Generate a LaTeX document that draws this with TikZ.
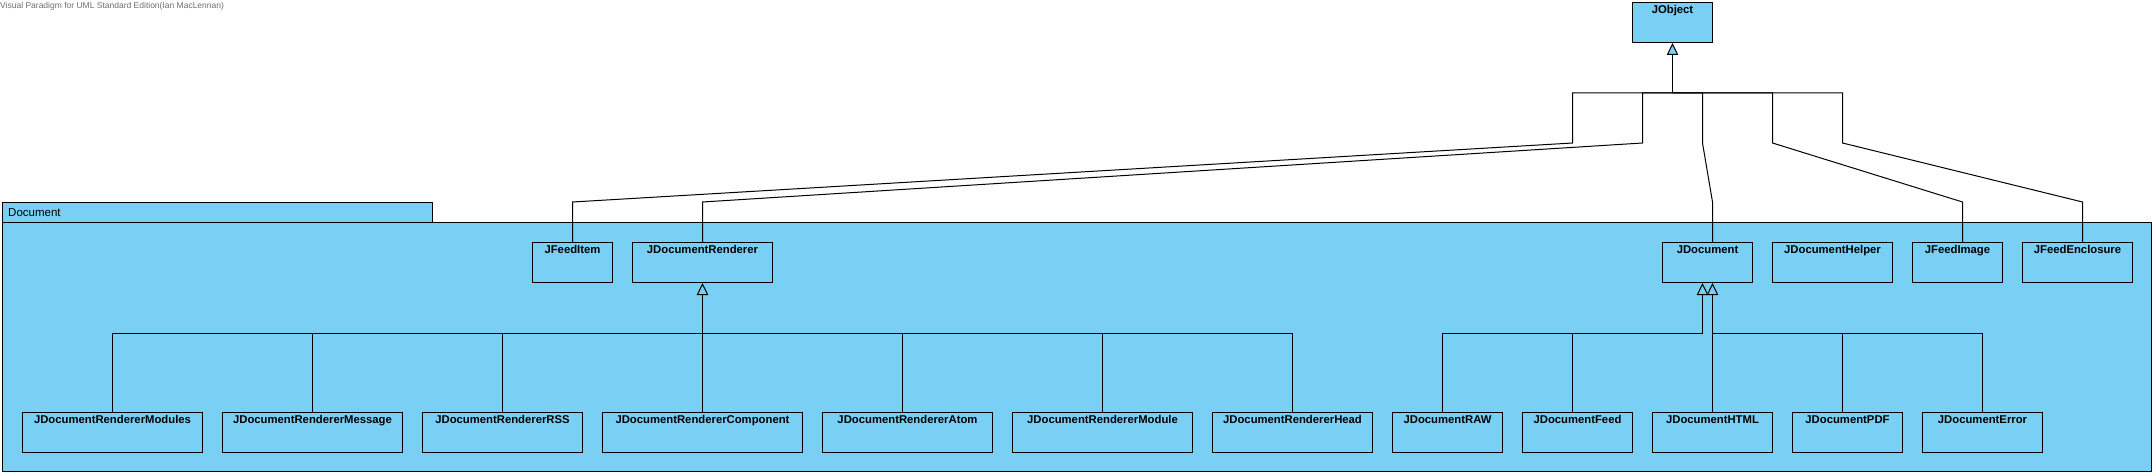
\documentclass[tikz,border=0pt]{standalone}
\usepackage{fontspec}
\setmainfont{Liberation Sans}
\usetikzlibrary{arrows.meta,calc}
\definecolor{cls}{RGB}{122,207,245}
\definecolor{vpgray}{RGB}{110,110,110}
\begin{document}
\begin{tikzpicture}[x=1pt,y=-1pt,
  box/.style={draw=black, fill=cls, line width=1pt, inner sep=0pt, anchor=north west, minimum height=40pt},
  pkgbox/.style={draw=black, fill=cls, line width=1pt, inner sep=0pt, anchor=north west},
  cname/.style={font=\fontsize{11.3}{12}\selectfont\bfseries, anchor=base, yshift=-11.5pt, inner sep=0pt},
  conn/.style={draw=black, line width=1pt},
  gen/.style={conn, -{Triangle[width=11.4pt,length=12pt,fill=cls]}},
]
\useasboundingbox (0,0) rectangle (2156,476);

\node[anchor=base west, inner sep=0pt, font=\fontsize{8.5}{9}\selectfont, text=vpgray] (title) at (0,9) {Visual Paradigm for UML Standard Edition(Ian MacLennan)};

% package
\node[pkgbox, minimum width=430pt, minimum height=20pt] (tab) at (2,202) {};
\node[pkgbox, minimum width=2149pt, minimum height=249pt] (package) at (2,222) {};
\node[anchor=west, inner sep=0pt, font=\fontsize{11.5}{12}\selectfont] (pkgname) at ($(tab.west)+(6,0)$) {Document};

% classes
\node[box, minimum width=80pt, label={[cname]north:JObject}] (jobject) at (1632,2) {};

\node[box, minimum width=80pt, label={[cname]north:JFeedItem}] (feeditem) at (532,242) {};
\node[box, minimum width=140pt, label={[cname]north:JDocumentRenderer}] (renderer) at (632,242) {};
\node[box, minimum width=90pt, label={[cname]north:JDocument}] (jdoc) at (1662,242) {};
\node[box, minimum width=120pt, label={[cname]north:JDocumentHelper}] (helper) at (1772,242) {};
\node[box, minimum width=90pt, label={[cname]north:JFeedImage}] (image) at (1912,242) {};
\node[box, minimum width=110pt, label={[cname]north:JFeedEnclosure}] (enclosure) at (2022,242) {};

\node[box, minimum width=180pt, label={[cname]north:JDocumentRendererModules}] (rmodules) at (22,412) {};
\node[box, minimum width=180pt, label={[cname]north:JDocumentRendererMessage}] (rmessage) at (222,412) {};
\node[box, minimum width=160pt, label={[cname]north:JDocumentRendererRSS}] (rrss) at (422,412) {};
\node[box, minimum width=200pt, label={[cname]north:JDocumentRendererComponent}] (rcomp) at (602,412) {};
\node[box, minimum width=170pt, label={[cname]north:JDocumentRendererAtom}] (ratom) at (822,412) {};
\node[box, minimum width=180pt, label={[cname]north:JDocumentRendererModule}] (rmodule) at (1012,412) {};
\node[box, minimum width=160pt, label={[cname]north:JDocumentRendererHead}] (rhead) at (1212,412) {};
\node[box, minimum width=110pt, label={[cname]north:JDocumentRAW}] (docraw) at (1392,412) {};
\node[box, minimum width=110pt, label={[cname]north:JDocumentFeed}] (dfeed) at (1522,412) {};
\node[box, minimum width=120pt, label={[cname]north:JDocumentHTML}] (dhtml) at (1652,412) {};
\node[box, minimum width=110pt, label={[cname]north:JDocumentPDF}] (dpdf) at (1792,412) {};
\node[box, minimum width=120pt, label={[cname]north:JDocumentError}] (derror) at (1922,412) {};

% JObject tree
\coordinate (tb) at ($(jobject.south)+(0,50)$);
\draw[gen] (tb) -- (jobject.south);
\draw[conn] (feeditem.north) -- ++(0,-40) -- ($(tb)+(-100,50)$) -- ($(tb)+(-100,0)$) -- (tb);
\draw[conn] (renderer.north) -- ++(0,-40) -- ($(tb)+(-30,50)$) -- ($(tb)+(-30,0)$) -- (tb);
\draw[conn] ($(jdoc.north)+(5,0)$) -- ++(0,-40) -- ($(tb)+(30,50)$) -- ($(tb)+(30,0)$) -- (tb);
\draw[conn] ($(image.north)+(5,0)$) -- ++(0,-40) -- ($(tb)+(100,50)$) -- ($(tb)+(100,0)$) -- (tb);
\draw[conn] ($(enclosure.north)+(5,0)$) -- ++(0,-40) -- ($(tb)+(170,50)$) -- ($(tb)+(170,0)$) -- (tb);

% JDocumentRenderer tree
\coordinate (rb) at ($(renderer.south)+(0,50)$);
\draw[gen] (rb) -- (renderer.south);
\draw[conn] (rmodules.north) |- (rb);
\draw[conn] (rmessage.north) |- (rb);
\draw[conn] (rrss.north) |- (rb);
\draw[conn] (rcomp.north) -- (rb);
\draw[conn] ($(ratom.north)+(-5,0)$) |- (rb);
\draw[conn] (rmodule.north) |- (rb);
\draw[conn] (rhead.north) |- (rb);

% JDocument tree
\coordinate (jl) at ($(jdoc.south)+(-5,50)$);
\coordinate (jr) at ($(jdoc.south)+(5,50)$);
\draw[gen] (jl) -- ($(jdoc.south)+(-5,0)$);
\draw[gen] (jr) -- ($(jdoc.south)+(5,0)$);
\draw[conn] ($(docraw.north)+(-5,0)$) |- (jl);
\draw[conn] ($(dfeed.north)+(-5,0)$) |- (jl);
\draw[conn] (dhtml.north) -- (jr);
\draw[conn] ($(dpdf.north)+(-5,0)$) |- (jr);
\draw[conn] (derror.north) |- (jr);
\end{tikzpicture}
\end{document}
